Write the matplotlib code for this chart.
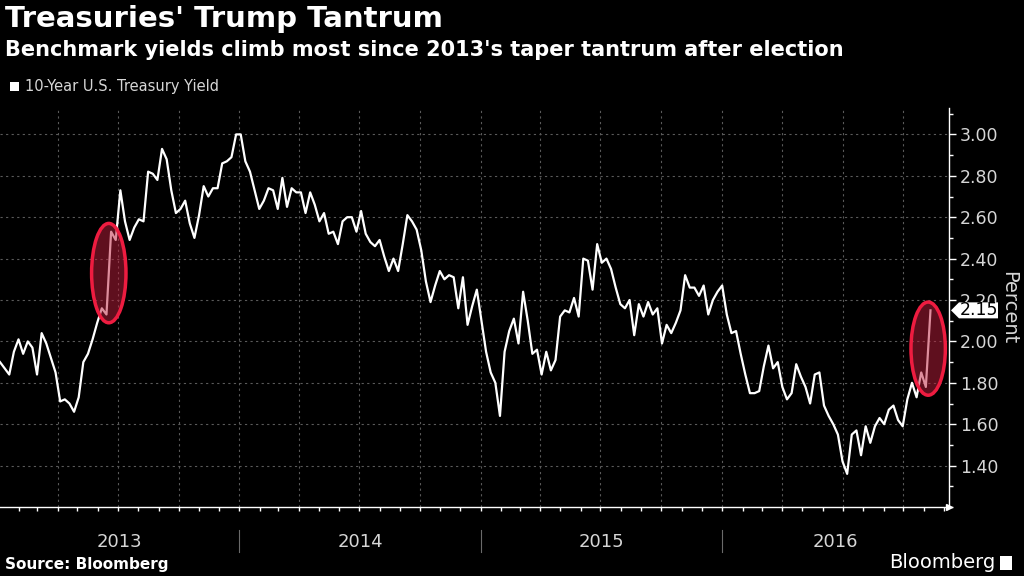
import matplotlib
matplotlib.use('Agg')
import matplotlib.pyplot as plt
import matplotlib.dates as mdates
import matplotlib.transforms as mtransforms
from matplotlib.patches import Ellipse, Polygon, Rectangle
from matplotlib.ticker import FixedLocator, MultipleLocator, FormatStrFormatter
import numpy as np
import pandas as pd

# weekly (Friday) 10-year yields
yield_2013 = [1.90, 1.87, 1.84, 1.95, 2.01, 1.94, 2.00, 1.97, 1.84, 2.04, 1.99, 1.92, 1.85,
              1.71, 1.72, 1.70, 1.66, 1.73, 1.90, 1.94, 2.01, 2.09, 2.16, 2.13, 2.53, 2.49,
              2.73, 2.58, 2.49, 2.55, 2.59, 2.58, 2.82, 2.81, 2.78, 2.93, 2.88, 2.73, 2.62,
              2.64, 2.68, 2.57, 2.50, 2.61, 2.75, 2.70, 2.74, 2.74, 2.86, 2.87, 2.89, 3.00]
yield_2014 = [3.00, 2.87, 2.82, 2.73, 2.64, 2.68, 2.74, 2.73, 2.64, 2.79, 2.65, 2.74, 2.72,
              2.72, 2.62, 2.72, 2.66, 2.58, 2.62, 2.52, 2.53, 2.47, 2.58, 2.60, 2.60, 2.53,
              2.63, 2.52, 2.48, 2.46, 2.49, 2.41, 2.34, 2.40, 2.34, 2.47, 2.61, 2.58, 2.54,
              2.44, 2.29, 2.19, 2.27, 2.34, 2.30, 2.32, 2.31, 2.16, 2.31, 2.08, 2.17, 2.25]
yield_2015 = [2.10, 1.95, 1.85, 1.80, 1.64, 1.95, 2.05, 2.11, 1.99, 2.24, 2.10, 1.94, 1.96,
              1.84, 1.95, 1.86, 1.91, 2.12, 2.15, 2.14, 2.21, 2.12, 2.40, 2.39, 2.25, 2.47,
              2.38, 2.40, 2.35, 2.26, 2.18, 2.16, 2.20, 2.03, 2.18, 2.12, 2.19, 2.13, 2.16,
              1.99, 2.08, 2.04, 2.09, 2.15, 2.32, 2.26, 2.26, 2.22, 2.27, 2.13, 2.20, 2.24]
yield_2016 = [2.27, 2.13, 2.04, 2.05, 1.94, 1.84, 1.75, 1.75, 1.76, 1.88, 1.98, 1.87, 1.90,
              1.78, 1.72, 1.75, 1.89, 1.83, 1.78, 1.70, 1.84, 1.85, 1.69, 1.64, 1.60, 1.55,
              1.42, 1.36, 1.55, 1.57, 1.45, 1.59, 1.51, 1.59, 1.63, 1.60, 1.67, 1.69, 1.62,
              1.59, 1.72, 1.80, 1.73, 1.85, 1.78, 2.15]
first_week = '2013-01-04'
highlight_weeks = ['2013-06-21', '2016-11-11']
year_labels = ['2013', '2014', '2015', '2016']
series_name = '10-Year U.S. Treasury Yield'
title = "Treasuries' Trump Tantrum"
subtitle = "Benchmark yields climb most since 2013's taper tantrum after election"

values = yield_2013 + yield_2014 + yield_2015 + yield_2016
dates = pd.date_range(first_week, periods=len(values), freq='W-FRI')
dnum = mdates.date2num(dates.to_pydatetime())

light = '#d6d6d6'
W, H = 1024, 576

fig = plt.figure(figsize=(W / 100, H / 100), dpi=100, facecolor='black')
ax = fig.add_axes([0, 1 - 507 / H, 949 / W, 399.5 / H])
ax.set_facecolor('black')

ax.plot(dnum, values, color='white', lw=1.6, zorder=3)

# highlight ellipses over the two big weekly jumps
for wk in highlight_weeks:
    i = int(np.where(dates == pd.Timestamp(wk))[0][0])
    cx = (dnum[i] + dnum[i - 1]) / 2
    cy = (values[i] + values[i - 1]) / 2
    h = abs(values[i] - values[i - 1]) + 0.08
    ax.add_patch(Ellipse((cx, cy), 52, h, facecolor='#be1e3c', alpha=0.5,
                         edgecolor='none', zorder=4))
    ax.add_patch(Ellipse((cx, cy), 52, h, facecolor='none', edgecolor='#ee1c40',
                         lw=2.5, zorder=5))

ax.set_xlim(mdates.date2num(pd.Timestamp('2013-01-04')), mdates.date2num(pd.Timestamp('2016-12-09')))
ax.set_ylim(1.2, 3.13)

for s in ['top', 'left']:
    ax.spines[s].set_visible(False)
for s in ['bottom', 'right']:
    ax.spines[s].set_color('white')
    ax.spines[s].set_linewidth(1)

ax.yaxis.tick_right()
ax.yaxis.set_major_locator(FixedLocator(np.arange(1.4, 3.01, 0.2)))
ax.yaxis.set_minor_locator(MultipleLocator(0.1))
ax.yaxis.set_major_formatter(FormatStrFormatter('%.2f'))
ax.tick_params(axis='y', which='major', length=5, width=1, color='white',
               labelcolor=light, labelsize=12.5, pad=3)
ax.tick_params(axis='y', which='minor', length=3, width=1, color='white')

ax.xaxis.set_major_locator(mdates.MonthLocator(bymonth=[1, 4, 7, 10]))
ax.xaxis.set_minor_locator(mdates.MonthLocator())
ax.tick_params(axis='x', which='both', length=3, width=1, color='white', labelbottom=False)

ax.grid(axis='y', which='major', ls=(0, (2, 3)), color='#5a5a5a', lw=0.8)
ax.grid(axis='x', which='major', ls=(0, (2, 3)), color='#5a5a5a', lw=0.8)
ax.plot([1.0], [0], marker='>', color='white', ms=4, transform=ax.transAxes, clip_on=False)

# year bands below the axis
blend = mtransforms.blended_transform_factory(ax.transData, ax.transAxes)
xmin, xmax = ax.get_xlim()
bounds = [xmin] + [mdates.date2num(pd.Timestamp(f'{y}-01-01')) for y in year_labels[1:]] + [xmax]
for k, y in enumerate(year_labels):
    ax.text((bounds[k] + bounds[k + 1]) / 2, -0.088, y, transform=blend, ha='center',
            va='center', color=light, fontsize=13)
    if k > 0:
        ax.plot([bounds[k], bounds[k]], [-0.058, -0.113], transform=blend, color='#6a6a6a',
                lw=0.8, clip_on=False)

ax.set_ylabel('Percent', rotation=270, color=light, fontsize=14, labelpad=14)
ax.yaxis.set_label_position('right')

# last value tag, drawn over the axis labels as in the original
last = values[-1]
fig.canvas.draw()
ypx = ax.transData.transform((0, last))[1]
x0 = ax.transAxes.transform((1, 0))[0] + 2
tag = Polygon([(x0, ypx), (x0 + 8, ypx + 8), (x0 + 47, ypx + 8), (x0 + 47, ypx - 8), (x0 + 8, ypx - 8)],
              closed=True, transform=None, facecolor='white', edgecolor='none', zorder=10)
fig.patches.append(tag)
fig.text((x0 + 28) / W, ypx / H, f'{last:.2f}', ha='center', va='center', color='black',
         fontsize=12.5, zorder=11)

# titles and legend
fig.text(5 / W, 1 - 19 / H, title, color='white', fontsize=21, fontweight='bold', va='center')
fig.text(5 / W, 1 - 50 / H, subtitle, color='white', fontsize=15, fontweight='bold', va='center')
fig.patches.append(Rectangle((10 / W, 1 - 91 / H), 9 / W, 9 / H, transform=fig.transFigure,
                             facecolor='white', edgecolor='none'))
fig.text(25 / W, 1 - 86 / H, series_name, color=light, fontsize=10.5, va='center')

fig.text(5 / W, 1 - 565 / H, 'Source: Bloomberg', color='white', fontsize=11, fontweight='bold',
         va='center')
fig.text(995 / W, 1 - 563 / H, 'Bloomberg', color='white', fontsize=14,
         va='center', ha='right')
fig.patches.append(Rectangle((1000 / W, 1 - 570 / H), 12 / W, 14 / H, transform=fig.transFigure,
                             facecolor='white', edgecolor='none'))

fig.savefig('out.png', dpi=100, facecolor='black')
